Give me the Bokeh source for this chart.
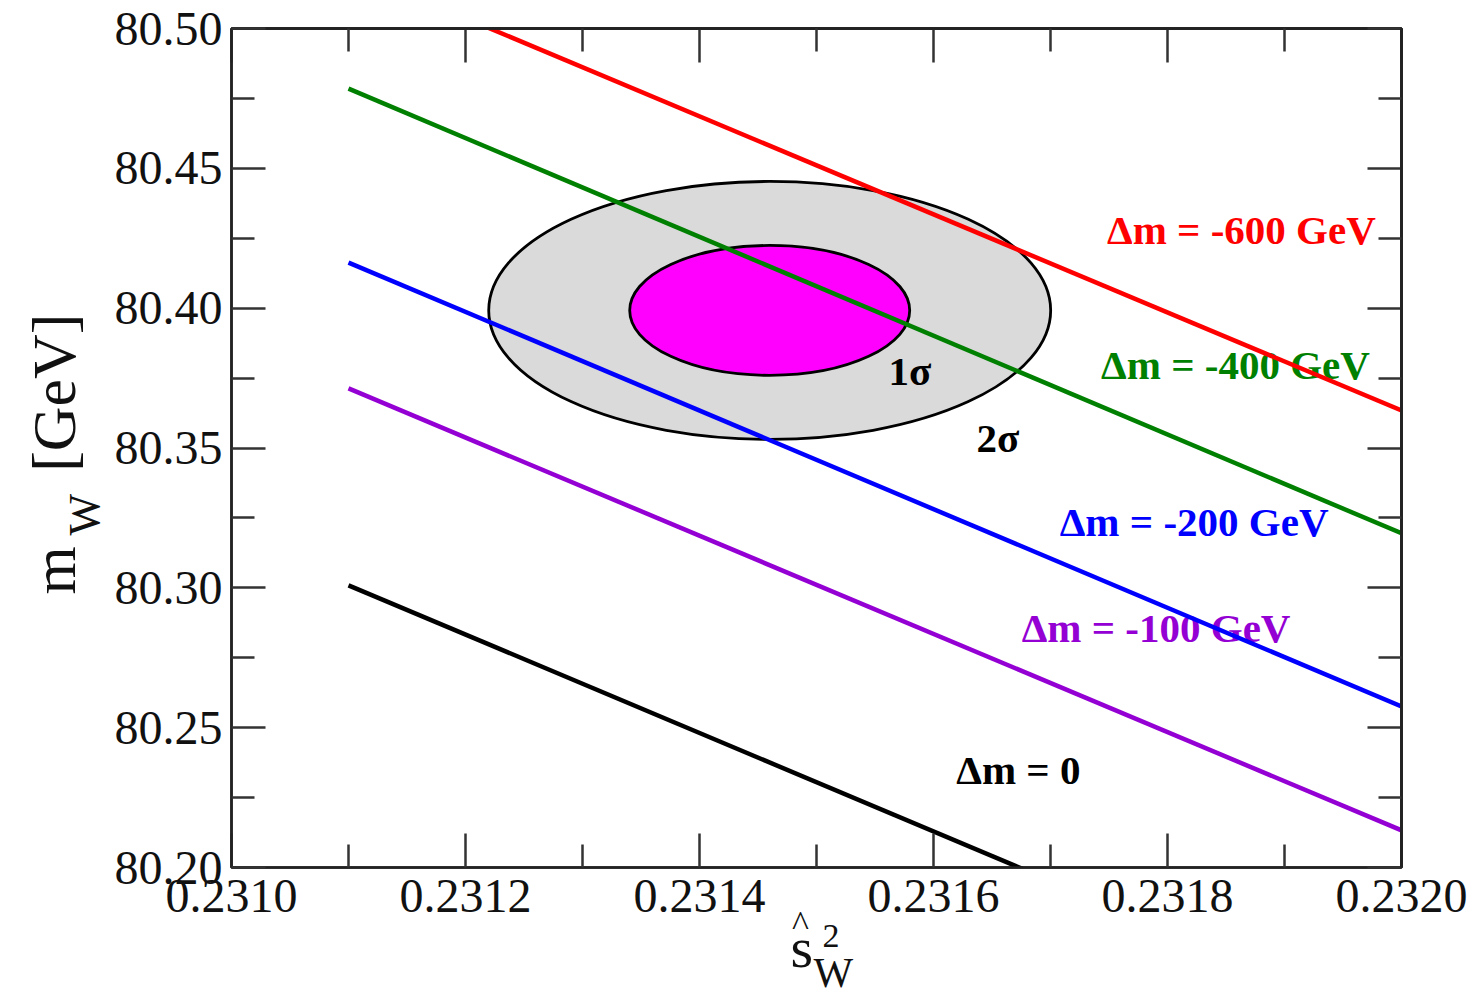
import math
from bokeh.plotting import figure
from bokeh.models import Range1d, LinearAxis, FixedTicker, PrintfTickFormatter, Label, ColumnDataSource
from bokeh.core.properties import value
from bokeh.embed import file_html
from bokeh.resources import INLINE

# ---------------- data ----------------
x_ticks = [0.2310, 0.2312, 0.2314, 0.2316, 0.2318, 0.2320]
x_minor = [0.2311, 0.2313, 0.2315, 0.2317, 0.2319]
y_ticks = [80.20, 80.25, 80.30, 80.35, 80.40, 80.45, 80.50]
y_minor = [80.225, 80.275, 80.325, 80.375, 80.425, 80.475]

delta_m = ["-600", "-400", "-200", "-100", "0"]
line_colors = ["#ff0000", "#008000", "#0000ff", "#9400d3", "#000000"]
s_start = [0.2311, 0.2311, 0.2311, 0.2311, 0.2311]
s_end = [0.2320, 0.2320, 0.2320, 0.2320, 0.2320]
mw_start = [80.5212, 80.4785, 80.4163, 80.3713, 80.3009]
mw_end = [80.3634, 80.3195, 80.2576, 80.2133, 80.1425]

label_texts = ["Δm = -600 GeV", "Δm = -400 GeV", "Δm = -200 GeV", "Δm = -100 GeV", "Δm = 0"]
label_x = [0.231978, 0.231973, 0.2319376, 0.2319051, 0.2317256]
label_y = [80.4278, 80.3795, 80.3237, 80.2858, 80.2347]

# best fit point and contours
fit_s = 0.23146
fit_mw = 80.3992
sigma_names = ["2σ", "1σ"]
ell_w = [0.0004803, 0.0002393]
ell_h = [0.09224, 0.04648]
ell_fill = ["#dadada", "#ff00ff"]
sig_label_x = [0.2316368, 0.2315615]
sig_label_y = [80.3534, 80.3777]

X0, X1 = 0.2310, 0.2320
Y0, Y1 = 80.20, 80.50

W, H = 1476, 998
FL, FR, FT, FB = 231, 75, 28, 131
FW = W - FL - FR
FH = H - FT - FB

def px2x(px):
    return X0 + (px - FL) / FW * (X1 - X0)

def px2y(py):
    return Y1 - (py - FT) / FH * (Y1 - Y0)

SERIF = "Liberation Serif"
INK = "#111111"

p = figure(width=W, height=H, x_range=Range1d(X0, X1), y_range=Range1d(Y0, Y1),
           output_backend="svg", toolbar_location=None,
           min_border_left=FL, min_border_right=FR, min_border_top=FT, min_border_bottom=FB,
           x_axis_location=None, y_axis_location=None)
p.grid.visible = False
p.outline_line_color = "#222222"
p.outline_line_width = 2.5
p.background_fill_color = "white"
p.border_fill_color = "white"

def style_axis(ax):
    ax.major_tick_in = 34
    ax.major_tick_out = 0
    ax.minor_tick_in = 23
    ax.minor_tick_out = 0
    ax.major_tick_line_color = "#333333"
    ax.minor_tick_line_color = "#333333"
    ax.major_tick_line_width = 2.5
    ax.minor_tick_line_width = 2.5
    ax.axis_line_color = "#222222"
    ax.axis_line_width = 2.5
    ax.major_label_text_font = SERIF
    ax.major_label_text_color = INK
    ax.major_label_text_font_size = "48px"
    return ax

def labelled_axis(fmt, ticks, minor, standoff):
    ax = LinearAxis(ticker=FixedTicker(ticks=ticks, minor_ticks=minor),
                    formatter=PrintfTickFormatter(format=fmt))
    style_axis(ax)
    ax.major_label_standoff = standoff
    return ax

def bare_tick_axis(positions, length):
    # mirror ticks without labels: drawn as "minor" ticks only
    ax = LinearAxis(ticker=FixedTicker(ticks=[], minor_ticks=positions))
    style_axis(ax)
    ax.minor_tick_in = length
    ax.major_label_standoff = 0
    return ax

p.add_layout(labelled_axis("%.4f", x_ticks, x_minor, 12), "below")
p.add_layout(labelled_axis("%.2f", y_ticks, y_minor, 9), "left")
p.add_layout(bare_tick_axis(x_ticks, 34), "above")
p.add_layout(bare_tick_axis(x_minor, 23), "above")
p.add_layout(bare_tick_axis(y_ticks, 34), "right")
p.add_layout(bare_tick_axis(y_minor, 23), "right")

# contours
for w, h, c in zip(ell_w, ell_h, ell_fill):
    p.ellipse(x=fit_s, y=fit_mw, width=w, height=h, fill_color=c,
              line_color="black", line_width=2.8)

# curve labels (under lines)
lab_src = ColumnDataSource(dict(x=label_x, y=label_y, t=label_texts, c=line_colors))
p.text(x="x", y="y", text="t", text_color="c", source=lab_src,
       text_font=value(SERIF), text_font_style="bold", text_font_size="41px",
       text_align="right", text_baseline="middle")

sig_src = ColumnDataSource(dict(x=sig_label_x, y=sig_label_y, t=sigma_names))
p.text(x="x", y="y", text="t", source=sig_src, text_color="black",
       text_font=value(SERIF), text_font_style="bold", text_font_size="41px",
       text_align="left", text_baseline="middle")

# lines
for xs, xe, ys, ye, c in zip(s_start, s_end, mw_start, mw_end, line_colors):
    p.line(x=[xs, xe], y=[ys, ye], line_color=c, line_width=4.5)

# Axis titles are built from unclipped labels hosted in the side panels
# (placed by data coordinates; the hosting panel only matters for spacing).
def add_label(side, px, py, text, size, angle=0.0, align="left"):
    lab = Label(x=px2x(px), y=px2y(py), text=text, text_font=SERIF,
                text_font_size=size, text_color=INK, angle=angle,
                text_align=align, text_baseline="alphabetic")
    p.add_layout(lab, side)

rot = math.pi / 2
# y title: m_W [GeV]
add_label("left", 53, 594, "m\u2003\u2009[GeV]", "62px", angle=rot)
add_label("right", 84, 535, "W", "44px", angle=rot)
# x title: s-hat squared, subscript W
add_label("left", 790, 947, "s", "58px")
add_label("left", 800, 923, "^", "36px", align="center")
add_label("right", 822, 935, "2", "34px")
add_label("below", 813, 972, "W", "42px")

open("out.html", "w").write(file_html(p, INLINE))
